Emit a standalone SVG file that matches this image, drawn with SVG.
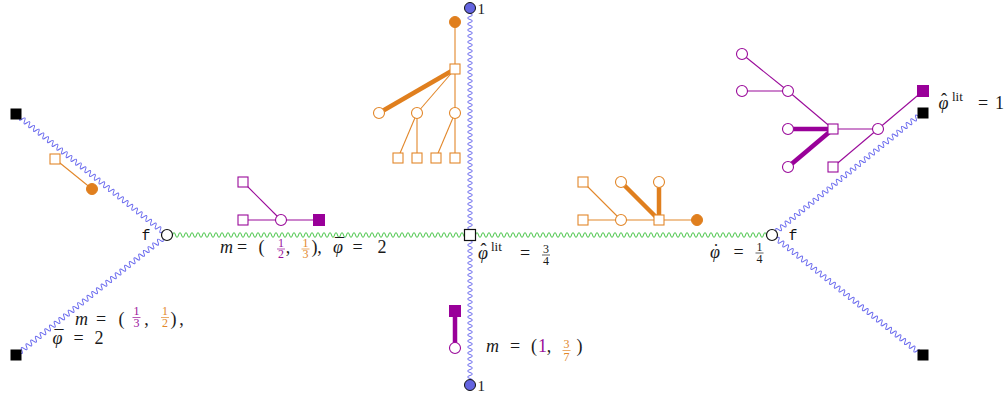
<svg xmlns="http://www.w3.org/2000/svg" width="1005" height="396" viewBox="0 0 1005 396">
<style>
.bw{fill:none;stroke:#6a6aee;stroke-width:1}
.gw{fill:none;stroke:#46c446;stroke-width:1}
.ol{stroke:#e2872a;stroke-width:1.1;fill:none}
.olt{stroke:#e07f1e;stroke-width:4.5;fill:none}
.pl{stroke:#9a0a9a;stroke-width:1.1;fill:none}
.plt{stroke:#990099;stroke-width:4.5;fill:none}
.on{fill:#fff;stroke:#e2872a;stroke-width:1.1}
.of{fill:#e07f1e;stroke:#e07f1e;stroke-width:1}
.pn{fill:#fff;stroke:#9a0a9a;stroke-width:1.1}
.pf{fill:#990099;stroke:#990099;stroke-width:1}
.bk{fill:#000}
.vx{fill:#fff;stroke:#111;stroke-width:1.2}
.bc{fill:#6464e0;stroke:#111;stroke-width:1}
.t{font-family:"Liberation Serif",serif;font-size:18px;fill:#1a1a1a}
.i{font-style:italic}
.n{font-style:normal}
.fr{font-family:"Liberation Serif",serif;font-size:12px;text-anchor:middle}
.m{text-anchor:middle}
.sup{font-family:"Liberation Serif",serif;font-size:13px;font-style:normal;fill:#1a1a1a}
.tt{font-family:"Liberation Mono",monospace;font-size:15px;fill:#111;text-anchor:middle}
.pt{fill:#9a109a}
.ot{fill:#e2872a}
.pb{stroke:#9a109a;stroke-width:0.7}
.ob{stroke:#e2872a;stroke-width:0.7}
.kb{stroke:#1a1a1a;stroke-width:0.7}
</style>
<defs>
<path id="wg" d="M0 0q1.5 -5 3 0t
3 0 3 0 3 0 3 0 3 0 3 0 3 0 3 0 3 0 3 0
3 0 3 0 3 0 3 0 3 0 3 0 3 0 3 0 3 0 3 0
3 0 3 0 3 0 3 0 3 0 3 0 3 0 3 0 3 0 3 0
3 0 3 0 3 0 3 0 3 0 3 0 3 0 3 0 3 0 3 0
3 0 3 0 3 0 3 0 3 0 3 0 3 0 3 0 3 0 3 0
3 0 3 0 3 0 3 0 3 0 3 0 3 0 3 0 3 0 3 0
3 0 3 0 3 0 3 0 3 0 3 0 3 0 3 0 3 0 3 0
3 0 3 0 3 0 3 0 3 0 3 0 3 0 3 0 3 0 3 0
3 0 3 0 3 0 3 0 3 0 3 0 3 0 3 0 3 0 3 0
3 0 3 0 3 0 3 0 3 0 3 0 3 0"/>
<path id="wt" d="M0 0q1.5 -5 3 0t
3 0 3 0 3 0 3 0 3 0 3 0 3 0 3 0 3 0 3 0
3 0 3 0 3 0 3 0 3 0 3 0 3 0 3 0 3 0 3 0
3 0 3 0 3 0 3 0 3 0 3 0 3 0 3 0 3 0 3 0
3 0 3 0 3 0 3 0 3 0 3 0 3 0 3 0 3 0 3 0
3 0 3 0 3 0 3 0 3 0 3 0 3 0 3 0 3 0 3 0
3 0 3 0 3 0 3 0 3 0 3 0 3 0 3 0 3 0 3 0
3 0 3 0 3 0 3 0 3 0 3 0 3 0 3 0 3 0 3 0
3 0"/>
<path id="wb" d="M0 0q1.5 -5 3 0t
3 0 3 0 3 0 3 0 3 0 3 0 3 0 3 0 3 0 3 0
3 0 3 0 3 0 3 0 3 0 3 0 3 0 3 0 3 0 3 0
3 0 3 0 3 0 3 0 3 0 3 0 3 0 3 0 3 0 3 0
3 0 3 0 3 0 3 0 3 0 3 0 3 0 3 0 3 0 3 0
3 0 3 0 3 0 3 0 3 0 3 0"/>
<path id="wd" d="M0 0q1.5 -5 3 0t
3 0 3 0 3 0 3 0 3 0 3 0 3 0 3 0 3 0 3 0
3 0 3 0 3 0 3 0 3 0 3 0 3 0 3 0 3 0 3 0
3 0 3 0 3 0 3 0 3 0 3 0 3 0 3 0 3 0 3 0
3 0 3 0 3 0 3 0 3 0 3 0 3 0 3 0 3 0 3 0
3 0 3 0 3 0 3 0 3 0 3 0 3 0 3 0 3 0 3 0
3 0 3 0 3 0 3 0 3 0 3 0 3 0 3 0 3 0 3 0"/>
</defs>
<rect width="1005" height="396" fill="#fff"/>

<g id="connectors">
<use href="#wg" class="gw" transform="translate(172.5,235)"/>
<use href="#wg" class="gw" transform="translate(475.5,235)"/>
<use href="#wt" class="bw" transform="translate(470,13.5) rotate(90)"/>
<use href="#wb" class="bw" transform="translate(470,240.5) rotate(90)"/>
<use href="#wd" class="bw" transform="translate(167,235) rotate(-141.3) translate(5.5,0)"/>
<use href="#wd" class="bw" transform="translate(167,235) rotate(141.5) translate(5.5,0)"/>
<use href="#wd" class="bw" transform="translate(772,235) rotate(-39.1) translate(5.5,0)"/>
<use href="#wd" class="bw" transform="translate(772,235) rotate(38.7) translate(5.5,0)"/>
</g>

<g id="node-left"><circle class="vx" cx="167" cy="235" r="5.5"/><text class="tt" x="146" y="240">f</text></g>
<g id="node-right"><circle class="vx" cx="772" cy="235" r="5.5"/><text class="tt" x="793" y="240">f</text></g>
<g id="node-center"><rect class="vx" x="464.5" y="229.5" width="11" height="11"/></g>
<g id="node-top"><circle class="bc" cx="470" cy="8" r="5.5"/><text class="t" x="477.5" y="13.5" style="font-size:15px">1</text></g>
<g id="node-bottom"><circle class="bc" cx="470" cy="385" r="5.5"/><text class="t" x="477.5" y="390.5" style="font-size:15px">1</text></g>
<g id="leaf-tl"><rect class="bk" x="10.5" y="108.5" width="11" height="11"/></g>
<g id="leaf-bl"><rect class="bk" x="10.5" y="349.5" width="11" height="11"/></g>
<g id="leaf-tr"><rect class="bk" x="917.5" y="107.5" width="11" height="11"/></g>
<g id="leaf-br"><rect class="bk" x="917.5" y="349.5" width="11" height="11"/></g>

<g id="tree-left">
<line class="ol" x1="55" y1="159" x2="92" y2="189"/>
<rect class="on" x="50" y="154" width="10" height="10"/>
<circle class="of" cx="92" cy="189" r="5.5"/>
</g>

<g id="tree-top">
<line class="ol" x1="455" y1="22" x2="455" y2="69"/>
<line class="ol" x1="455" y1="69" x2="417" y2="113"/>
<line class="ol" x1="455" y1="69" x2="455" y2="113"/>
<line class="ol" x1="417" y1="113" x2="398" y2="158"/>
<line class="ol" x1="417" y1="113" x2="417" y2="158"/>
<line class="ol" x1="455" y1="113" x2="436" y2="158"/>
<line class="ol" x1="455" y1="113" x2="455" y2="158"/>
<line class="olt" x1="455" y1="69" x2="379" y2="113"/>
<circle class="of" cx="455" cy="22" r="5.5"/>
<rect class="on" x="450" y="64" width="10" height="10"/>
<circle class="on" cx="379" cy="113" r="5.5"/>
<circle class="on" cx="417" cy="113" r="5.5"/>
<circle class="on" cx="455" cy="113" r="5.5"/>
<rect class="on" x="393" y="153" width="10" height="10"/>
<rect class="on" x="412" y="153" width="10" height="10"/>
<rect class="on" x="431" y="153" width="10" height="10"/>
<rect class="on" x="450" y="153" width="10" height="10"/>
</g>

<g id="tree-mid-left">
<line class="pl" x1="243" y1="182" x2="281" y2="220"/>
<line class="pl" x1="243" y1="220" x2="319" y2="220"/>
<rect class="pn" x="238" y="177" width="10" height="10"/>
<rect class="pn" x="238" y="215" width="10" height="10"/>
<circle class="pn" cx="281" cy="220" r="5.5"/>
<rect class="pf" x="313.5" y="214.5" width="11" height="11"/>
</g>

<g id="tree-mid-right">
<line class="ol" x1="583" y1="182" x2="621" y2="220"/>
<line class="ol" x1="583" y1="220" x2="697" y2="220"/>
<line class="olt" x1="621" y1="182" x2="659" y2="220"/>
<line class="olt" x1="659" y1="182" x2="659" y2="220"/>
<rect class="on" x="578" y="177" width="10" height="10"/>
<rect class="on" x="578" y="215" width="10" height="10"/>
<circle class="on" cx="621" cy="182" r="5.5"/>
<circle class="on" cx="621" cy="220" r="5.5"/>
<circle class="on" cx="659" cy="182" r="5.5"/>
<rect class="on" x="654" y="215" width="10" height="10"/>
<circle class="of" cx="697" cy="220" r="5.5"/>
</g>

<g id="tree-top-right">
<line class="pl" x1="742" y1="54" x2="788" y2="91"/>
<line class="pl" x1="742" y1="91" x2="788" y2="91"/>
<line class="pl" x1="788" y1="91" x2="833" y2="129"/>
<line class="pl" x1="833" y1="129" x2="878" y2="129"/>
<line class="pl" x1="878" y1="129" x2="923" y2="91"/>
<line class="pl" x1="833" y1="167" x2="878" y2="129"/>
<line class="plt" x1="788" y1="129" x2="833" y2="129"/>
<line class="plt" x1="788" y1="167" x2="833" y2="129"/>
<circle class="pn" cx="742" cy="54" r="5.5"/>
<circle class="pn" cx="742" cy="91" r="5.5"/>
<circle class="pn" cx="788" cy="91" r="5.5"/>
<circle class="pn" cx="788" cy="129" r="5.5"/>
<circle class="pn" cx="788" cy="167" r="5.5"/>
<rect class="pn" x="828" y="124" width="10" height="10"/>
<rect class="pn" x="828" y="162" width="10" height="10"/>
<circle class="pn" cx="878" cy="129" r="5.5"/>
<rect class="pf" x="917.5" y="85.5" width="11" height="11"/>
</g>

<g id="tree-bottom">
<line class="plt" x1="455" y1="311" x2="455" y2="348"/>
<rect class="pf" x="449.5" y="305.5" width="11" height="11"/>
<circle class="pn" cx="455" cy="348" r="5.5"/>
</g>

<g id="label-mid-left">
<text class="t i" x="220" y="252.5">m</text>
<text class="t m" x="242" y="252.5">=</text>
<text class="t m" x="261.5" y="252.5">(</text>
<text class="fr pt" x="281" y="246.5">1</text><line class="pb" x1="277" y1="249" x2="285" y2="249"/><text class="fr pt" x="281" y="258">2</text>
<text class="t m" x="288" y="252.5">,</text>
<text class="fr ot" x="305.5" y="246.5">1</text><line class="ob" x1="301.5" y1="249" x2="309.5" y2="249"/><text class="fr ot" x="305.5" y="258">3</text>
<text class="t m" x="314.5" y="252.5">)</text>
<text class="t m" x="319.5" y="252.5">,</text>
<text class="t i" x="333" y="252.5">φ<tspan class="n" dx="-8" dy="-1.5">¯</tspan></text>
<text class="t m" x="357.5" y="252.5">=</text>
<text class="t m" x="382" y="252.5">2</text>
</g>

<g id="label-center">
<text class="t i" x="478" y="259">φ<tspan class="n" dx="-7.5" dy="-3">ˆ</tspan><tspan class="sup" x="491" y="251">lit</tspan></text>
<text class="t m" x="525" y="259">=</text>
<text class="fr" x="546" y="252.5" fill="#1a1a1a">3</text><line class="kb" x1="542" y1="255" x2="550" y2="255"/><text class="fr" x="546" y="264.5" fill="#1a1a1a">4</text>
</g>

<g id="label-mid-right">
<text class="t i" x="710" y="258">φ<tspan class="n" dx="-7" dy="-1">˙</tspan></text>
<text class="t m" x="738.5" y="258">=</text>
<text class="fr" x="759.5" y="250.5" fill="#1a1a1a">1</text><line class="kb" x1="755.5" y1="253" x2="763.5" y2="253"/><text class="fr" x="759.5" y="262.5" fill="#1a1a1a">4</text>
</g>

<g id="label-bottom-left">
<text class="t i" x="75" y="324.5">m</text>
<text class="t m" x="101" y="324.5">=</text>
<text class="t m" x="121.5" y="324.5">(</text>
<text class="fr pt" x="136.5" y="315">1</text><line class="pb" x1="132.5" y1="317.5" x2="140.5" y2="317.5"/><text class="fr pt" x="136.5" y="326.5">3</text>
<text class="t m" x="146.5" y="324.5">,</text>
<text class="fr ot" x="165" y="315">1</text><line class="ob" x1="161" y1="317.5" x2="169" y2="317.5"/><text class="fr ot" x="165" y="326.5">2</text>
<text class="t m" x="173.5" y="324.5">)</text>
<text class="t m" x="181.5" y="324.5">,</text>
<text class="t i" x="52.5" y="344">φ<tspan class="n" dx="-8" dy="-1.5">¯</tspan></text>
<text class="t m" x="78.5" y="344">=</text>
<text class="t m" x="99" y="344">2</text>
</g>

<g id="label-bottom">
<text class="t i" x="486" y="352">m</text>
<text class="t m" x="515" y="352">=</text>
<text class="t m" x="534" y="352">(</text>
<text class="t m pt" x="542.5" y="352">1</text>
<text class="t m" x="549" y="352">,</text>
<text class="fr ot" x="566.5" y="348">3</text><line class="ob" x1="562.5" y1="350.5" x2="570.5" y2="350.5"/><text class="fr ot" x="566.5" y="360.5">7</text>
<text class="t m" x="579.5" y="352">)</text>
</g>

<g id="label-top-right">
<text class="t i" x="938.5" y="108.5">φ<tspan class="n" dx="-7.5" dy="-3">ˆ</tspan><tspan class="sup" x="952" y="101">lit</tspan></text>
<text class="t m" x="983" y="108.5">=</text>
<text class="t m" x="999.5" y="108.5">1</text>
</g>
</svg>
